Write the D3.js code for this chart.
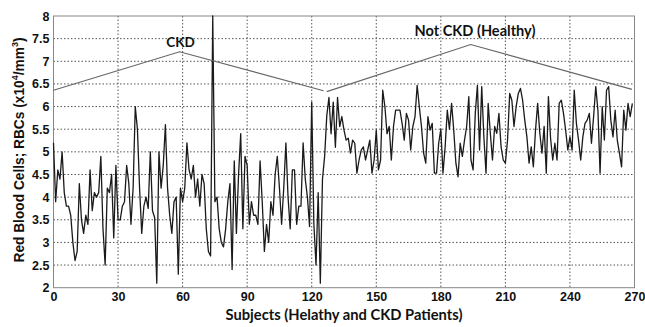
<!DOCTYPE html>
<html>
<head>
<meta charset="utf-8">
<script src="https://cdn.jsdelivr.net/npm/d3@7"></script>
<style>
  body { margin: 0; background: #fff; }
  svg { display: block; }
  .tick text { font-family: "Liberation Sans", Arial, sans-serif; font-weight: bold; font-size: 12.5px; fill: #111; }
</style>
</head>
<body>
<svg width="645" height="327"></svg>
<script>
// red blood cell counts per subject (x10^4/mm^3), subject 0..269
var rbc = [
  5.2, 3.9, 4.6, 4.4, 5.0, 4.1, 3.8, 3.8, 3.6, 3.0,
  2.6, 2.8, 4.3, 3.5, 3.2, 3.6, 3.4, 4.6, 3.7, 4.1,
  4.0, 4.1, 4.9, 3.3, 2.5, 4.2, 4.1, 4.5, 3.1, 4.7,
  3.5, 3.5, 3.8, 3.9, 4.7, 4.3, 3.4, 4.2, 6.0, 5.5,
  4.2, 3.2, 3.8, 4.0, 3.75, 5.0, 3.7, 3.55, 2.1, 5.0,
  4.2, 4.7, 5.6, 4.2, 3.6, 3.2, 3.9, 4.0, 2.3, 4.2,
  3.9, 4.2, 5.2, 4.6, 4.4, 4.7, 4.0, 4.4, 3.8, 4.5,
  4.3, 3.3, 2.8, 2.7, 8.0, 3.9, 4.0, 3.3, 3.0, 2.9,
  3.3, 3.9, 4.3, 2.4, 4.8, 3.2, 4.5, 5.4, 3.3, 4.9,
  4.7, 3.4, 3.9, 3.6, 3.6, 3.4, 4.8, 3.9, 2.8, 3.4,
  3.0, 3.9, 3.6, 4.5, 4.9, 4.2, 3.4, 4.2, 5.2, 4.0,
  3.3, 4.6, 4.6, 3.4, 3.8, 3.8, 5.2, 4.4, 4.0, 3.35,
  6.1, 3.4, 2.5, 4.1, 2.1, 4.4, 4.9, 5.8, 6.2, 5.4,
  6.1, 5.1, 6.2, 5.56, 5.78, 5.48, 5.26, 5.3, 4.97, 5.26,
  5.19, 4.53, 4.82, 5.04, 5.11, 4.82, 5.04, 5.26, 4.53, 4.82,
  5.48, 4.6, 4.82, 6.36, 6.0, 5.4, 5.56, 4.82, 5.56, 5.92,
  5.92, 5.92, 5.63, 5.26, 5.85, 5.7, 5.04, 5.56, 5.78, 6.47,
  6.0, 5.56, 4.97, 4.75, 5.78, 5.48, 5.63, 4.53, 4.53, 5.19,
  5.5, 4.53, 5.11, 5.92, 5.5, 6.07, 5.48, 4.75, 4.45, 5.19,
  4.9, 5.26, 5.56, 6.22, 4.82, 4.6, 5.85, 6.47, 5.04, 6.44,
  5.33, 4.53, 6.07, 5.41, 4.82, 5.56, 5.41, 5.85, 5.11, 4.82,
  4.75, 5.26, 6.29, 6.14, 5.56, 6.0, 6.29, 6.4, 6.14, 5.7,
  5.33, 4.75, 5.11, 4.67, 5.48, 6.07, 5.41, 4.97, 5.56, 4.53,
  6.22, 5.3, 4.82, 5.19, 4.82, 6.07, 6.14, 5.85, 5.48, 5.04,
  5.33, 5.04, 6.36, 5.63, 5.26, 4.82, 5.33, 5.63, 5.7, 5.85,
  5.19, 5.78, 6.44, 5.92, 4.53, 6.0, 5.26, 6.36, 6.44, 5.7,
  5.33, 5.92, 5.26, 4.97, 4.67, 5.92, 5.48, 6.07, 5.78, 6.07
];

// bracket lines marking the two groups
var groupNames = ['CKD', 'Not CKD (Healthy)'];
var ckdBracket = [[0, 6.36], [58.6, 7.21], [125.5, 6.35]];
var healthyBracket = [[127, 6.33], [193.9, 7.37], [268.8, 6.38]];

var xTicks = [0, 30, 60, 90, 120, 150, 180, 210, 240, 270];
var yTicks = [2, 2.5, 3, 3.5, 4, 4.5, 5, 5.5, 6, 6.5, 7, 7.5, 8];

var svg = d3.select('svg');
var pLeft = 53.5, pRight = 634.5, pTop = 16, pBottom = 287.7;

var x = d3.scaleLinear().domain([0, 270]).range([pLeft, pRight]);
var y = d3.scaleLinear().domain([2, 8]).range([pBottom, pTop]);

// dotted grid
svg.append('g').selectAll('line').data(xTicks.slice(1, -1)).enter().append('line')
  .attr('x1', function(d) { return x(d); }).attr('x2', function(d) { return x(d); })
  .attr('y1', pTop).attr('y2', pBottom)
  .attr('stroke', '#555').attr('stroke-width', 1).attr('stroke-dasharray', '1.5,2');
svg.append('g').selectAll('line').data(yTicks.slice(1, -1)).enter().append('line')
  .attr('x1', pLeft).attr('x2', pRight)
  .attr('y1', function(d) { return y(d); }).attr('y2', function(d) { return y(d); })
  .attr('stroke', '#555').attr('stroke-width', 1).attr('stroke-dasharray', '1.5,2');

// box
svg.append('rect').attr('x', pLeft).attr('y', pTop)
  .attr('width', pRight - pLeft).attr('height', pBottom - pTop)
  .attr('fill', 'none').attr('stroke', '#888').attr('stroke-width', 1);

// axes
var xAxis = svg.append('g').attr('transform', 'translate(0,' + pBottom + ')')
  .call(d3.axisBottom(x).tickValues(xTicks).tickSize(0).tickPadding(4).tickFormat(d3.format('d')));
var yAxis = svg.append('g').attr('transform', 'translate(' + pLeft + ',0)')
  .call(d3.axisLeft(y).tickValues(yTicks).tickSize(0).tickPadding(4).tickFormat(function(d) { return String(d); }));
xAxis.select('.domain').remove();
yAxis.select('.domain').remove();

// data line
var line = d3.line().x(function(d, i) { return x(i); }).y(function(d) { return y(d); });
svg.append('path').datum(rbc).attr('d', line)
  .attr('fill', 'none').attr('stroke', '#1a1a1a').attr('stroke-width', 1.3).attr('stroke-linejoin', 'round');

// group brackets
var bline = d3.line().x(function(d) { return x(d[0]); }).y(function(d) { return y(d[1]); });
[ckdBracket, healthyBracket].forEach(function(b) {
  svg.append('path').datum(b).attr('d', bline)
    .attr('fill', 'none').attr('stroke', '#666').attr('stroke-width', 1.2);
});

function fit(t, w) {
  var len = t.node().getComputedTextLength();
  var fs = parseFloat(t.attr('font-size'));
  t.attr('font-size', (fs * w / len).toFixed(2));
}

svg.append('text').attr('x', x(ckdBracket[1][0]) + 1).attr('y', 47)
  .attr('text-anchor', 'middle').attr('font-family', 'Lato, "Open Sans", sans-serif')
  .attr('font-weight', 'bold').attr('font-size', 13.5).attr('fill', '#111').text(groupNames[0]);
var t2 = svg.append('text').attr('x', 475).attr('y', 36)
  .attr('text-anchor', 'middle').attr('font-family', 'Lato, "Open Sans", sans-serif')
  .attr('font-weight', 'bold').attr('font-size', 14).attr('fill', '#111').text(groupNames[1]);
fit(t2, 121);

// axis titles
var xt = svg.append('text').attr('x', (pLeft + pRight) / 2).attr('y', 320)
  .attr('text-anchor', 'middle').attr('font-family', 'Lato, "Open Sans", sans-serif')
  .attr('font-weight', 'bold').attr('font-size', 15).attr('fill', '#111')
  .text('Subjects (Helathy and CKD Patients)');
fit(xt, 237);

var yt = svg.append('text').attr('transform', 'translate(24,150) rotate(-90)')
  .attr('text-anchor', 'middle').attr('font-family', '"Liberation Sans", Arial, sans-serif')
  .attr('font-weight', 'bold').attr('font-size', 14).attr('fill', '#111');
yt.append('tspan').text('Red Blood Cells; RBCs (x10');
yt.append('tspan').attr('font-size', 9).attr('dy', -6).text('4');
yt.append('tspan').attr('dy', 6).text('/mm');
yt.append('tspan').attr('font-size', 9).attr('dy', -6).text('3');
yt.append('tspan').attr('dy', 6).text(')');
fit(yt, 225);
</script>
</body>
</html>
